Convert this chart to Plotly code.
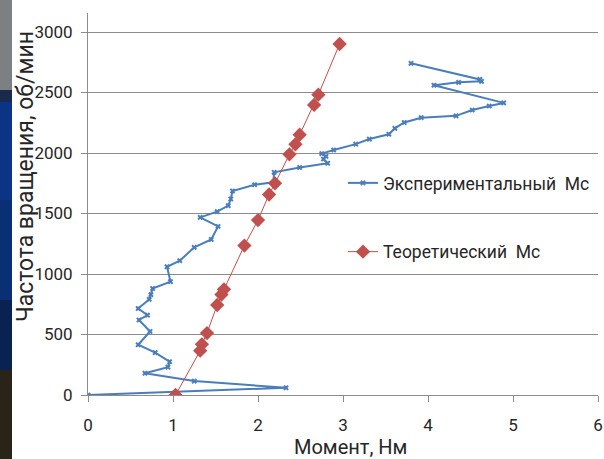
import plotly.graph_objects as go

# Experimental Mc (moment, Nm) vs rotation speed (rpm), in drawing order
exp_moment = [0.00, 2.33, 1.25, 0.67, 0.94, 0.96, 0.79, 0.59, 0.73, 0.60, 0.70, 0.59,
              0.72, 0.74, 0.76, 0.97, 0.93, 1.08, 1.25, 1.45, 1.53, 1.32, 1.52, 1.65,
              1.68, 1.70, 1.96, 2.18, 2.19, 2.49, 2.82, 2.77, 2.80, 2.75, 2.89, 3.15,
              3.31, 3.54, 3.61, 3.72, 3.92, 4.33, 4.52, 4.72, 4.89, 4.07, 4.36, 4.63,
              4.61, 3.80]
exp_rpm = [0, 60, 115, 180, 230, 275, 350, 415, 525, 620, 660, 715,
           790, 830, 880, 937, 1060, 1110, 1220, 1285, 1393, 1468, 1515, 1565,
           1620, 1686, 1738, 1758, 1840, 1880, 1915, 1950, 1972, 1995, 2025, 2073,
           2115, 2155, 2204, 2252, 2292, 2307, 2355, 2388, 2414, 2560, 2584, 2592,
           2608, 2741]

# Theoretical Mc
theo_moment = [1.03, 1.32, 1.34, 1.40, 1.52, 1.57, 1.60, 1.84, 2.00, 2.13, 2.20,
               2.37, 2.44, 2.49, 2.66, 2.71, 2.96]
theo_rpm = [0, 366, 419, 512, 744, 830, 873, 1235, 1446, 1657, 1749,
            1989, 2072, 2151, 2397, 2482, 2901]

x_ticks = [0, 1, 2, 3, 4, 5, 6]
y_ticks = [0, 500, 1000, 1500, 2000, 2500, 3000]

name_exp = "Экспериментальный\u00a0 Мс"
name_theo = "Теоретический\u00a0 Мс"
x_title = "Момент, Нм"
y_title = "Частота вращения, об/мин"

FONT = "Roboto, Arial, sans-serif"
TXT = "#262626"
GRID = "#8c8c8c"

fig = go.Figure()
fig.add_trace(go.Scatter(
    x=exp_moment, y=exp_rpm, mode="lines+markers", name=name_exp,
    line=dict(color="#4A7EBB", width=2),
    marker=dict(symbol="x", size=5, color="#4A7EBB"),
    legendgroup="a",
))
fig.add_trace(go.Scatter(
    x=theo_moment, y=theo_rpm, mode="lines+markers", name=name_theo,
    line=dict(color="#C0504D", width=1),
    marker=dict(symbol="diamond", size=11, color="#C0504D"),
    legendgroup="b",
))

# narrow photographic strip on the left edge of the slide
strip = [(0, 90, "#7c8082"), (90, 102, "#1a2a4a"), (102, 200, "#0b3584"),
         (200, 300, "#0a2f74"), (300, 370, "#0a2252"), (370, 459, "#2a2418")]
for y0, y1, c in strip:
    fig.add_shape(type="rect", xref="paper", yref="paper",
                  x0=(0 - 88) / 510, x1=(12 - 88) / 510,
                  y0=(395 - y1) / 382, y1=(395 - y0) / 382,
                  fillcolor=c, line=dict(width=0), layer="below")

fig.add_annotation(text=y_title, xref="paper", yref="paper",
                   x=(25 - 88) / 510, y=(395 - 177) / 382, textangle=-90,
                   xanchor="center", yanchor="middle",
                   showarrow=False, font=dict(family=FONT, size=23, color=TXT))
fig.add_annotation(text=x_title, xref="paper", yref="paper",
                   x=(350 - 88) / 510, y=(395 - 447) / 382,
                   xanchor="center", yanchor="middle",
                   showarrow=False, font=dict(family=FONT, size=20, color=TXT))

fig.update_layout(
    width=604, height=459,
    margin=dict(l=88, r=6, t=13, b=64, autoexpand=False),
    paper_bgcolor="white", plot_bgcolor="white",
    font=dict(family=FONT, size=17, color=TXT),
    showlegend=True,
    legend=dict(x=(343 - 88) / 510, y=(395 - 165) / 382, xanchor="left", yanchor="top",
                bgcolor="rgba(0,0,0,0)", tracegroupgap=43,
                font=dict(family=FONT, size=17.5, color=TXT)),
    xaxis=dict(range=[0, 6], tickvals=x_ticks, showgrid=False, zeroline=False,
               showline=True, linecolor=GRID, linewidth=1,
               ticks="outside", ticklen=6, tickcolor=GRID, ticklabelstandoff=9,
               tickfont=dict(family=FONT, size=17, color=TXT)),
    yaxis=dict(range=[0, 3157], tickvals=y_ticks, showgrid=True, gridcolor=GRID,
               gridwidth=1, zeroline=False, showline=True, linecolor=GRID,
               linewidth=1, ticks="outside", ticklen=6, tickcolor=GRID,
               ticklabelstandoff=5,
               tickfont=dict(family=FONT, size=17, color=TXT)),
)

fig.write_html("out.html", config={"displayModeBar": False},
               post_script="document.body.style.margin='0';")
